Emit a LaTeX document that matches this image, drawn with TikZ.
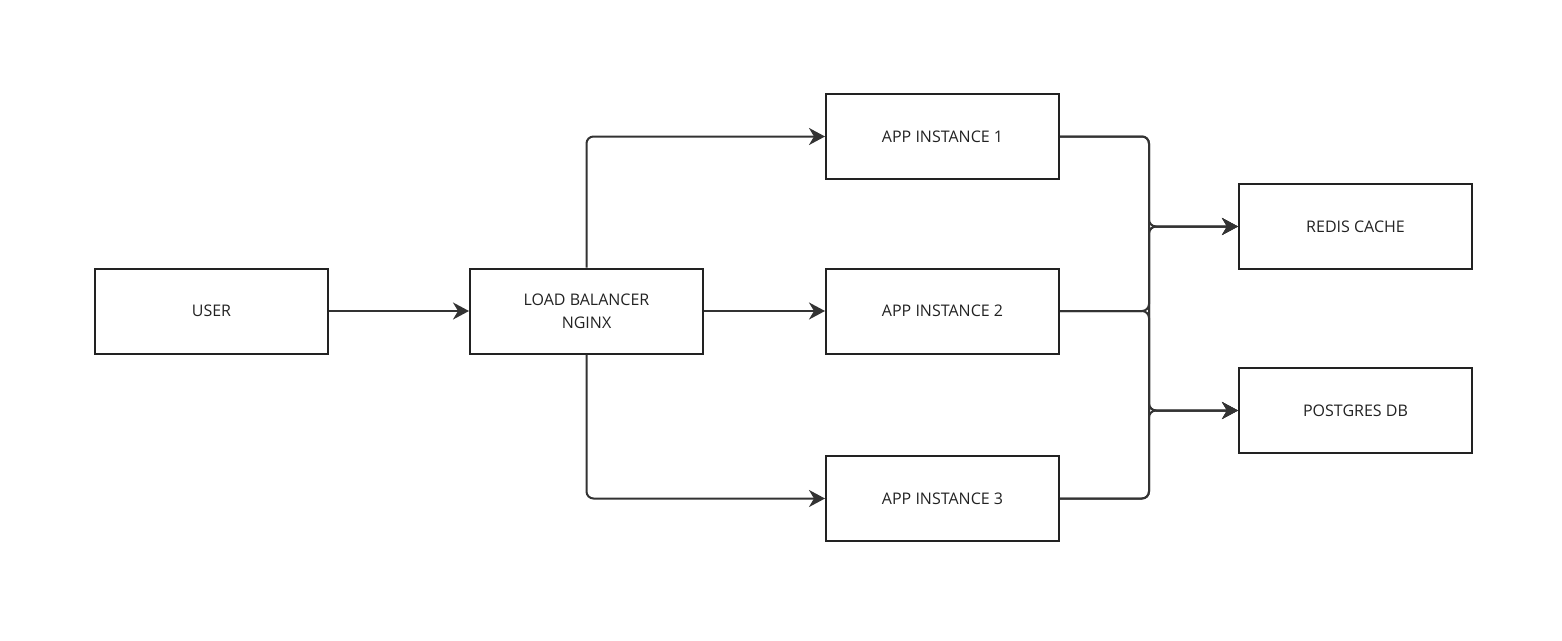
\documentclass[tikz,border=0pt]{standalone}
\usepackage{fontspec}
\setmainfont{Open Sans}
\usetikzlibrary{arrows.meta}
\definecolor{ln}{HTML}{333333}
\definecolor{bx}{HTML}{222222}
\begin{document}
\begin{tikzpicture}[x=1pt,y=-1pt,
  box/.style={draw=bx,line width=2pt,minimum width=233pt,minimum height=85pt,inner sep=0pt,align=center,
    font=\fontsize{16pt}{23pt}\selectfont,text=bx},
  conn/.style={draw=ln,line width=2pt,rounded corners=7pt,-{Stealth[length=16pt,width=17pt,inset=5pt]}},
  plain/.style={draw=ln,line width=2pt,rounded corners=7pt}]
\useasboundingbox (0,0) rectangle (1562,640);
\node[box] (user) at (211.5,311) {USER};
\node[box] (lb) at (586.5,311) {LOAD BALANCER\\NGINX};
\node[box] (a1) at (942.5,136.5) {APP INSTANCE 1};
\node[box] (a2) at (942.5,311) {APP INSTANCE 2};
\node[box] (a3) at (942.5,498.5) {APP INSTANCE 3};
\node[box] (redis) at (1355.5,226.5) {REDIS CACHE};
\node[box] (pg) at (1355.5,410.5) {POSTGRES DB};
\draw[conn] (user) -- (lb);
\draw[conn] (lb) -- (a2);
\draw[conn] (lb.north) |- (a1.west);
\draw[conn] (lb.south) |- (a3.west);
\foreach \s in {a1,a2,a3}{
  \draw[conn] (\s.east) -- (1149,0 |- \s.east) |- (redis.west);
  \draw[conn] (\s.east) -- (1149,0 |- \s.east) |- (pg.west);
}
\end{tikzpicture}
\end{document}
